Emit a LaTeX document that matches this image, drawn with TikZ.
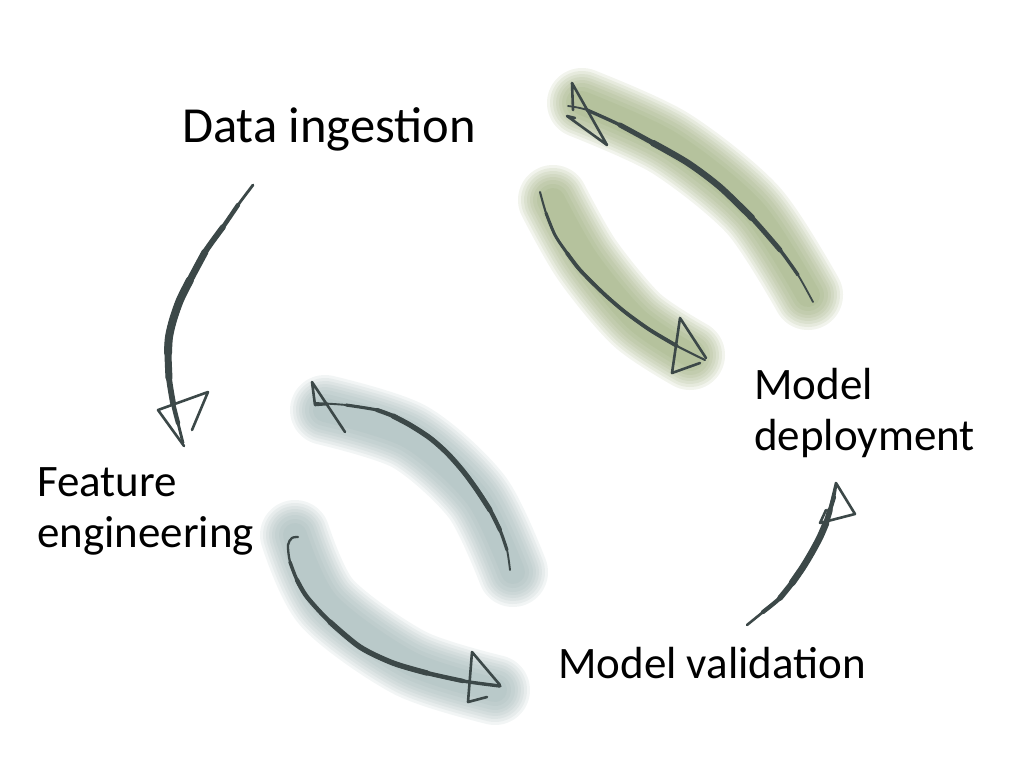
\documentclass[tikz,border=0pt]{standalone}
\usepackage{fontspec}
\setmainfont{Carlito}
\definecolor{inkc}{HTML}{3C4848}
\definecolor{greenc}{HTML}{8A9F62}
\definecolor{bluec}{HTML}{90ABAB}
\tikzset{
  lbl/.style={inner sep=0pt, anchor=base west, align=left, text=black,
    font=\fontsize{45}{51}\selectfont},
  biglbl/.style={lbl, font=\fontsize{50.5}{56}\selectfont},
  shaft/.style={draw=inkc, line cap=round, line join=round},
  tip/.style={draw=inkc, line width=2.6pt, line cap=round, line join=round},
  wash/.style={line cap=round, line join=round},
}
\newcommand{\washband}[2]{%
  \foreach \w in {70,64,58,52,46,40,32,24}{%
    \draw[wash, draw=#1, line width=\w pt, opacity=0.11] plot[smooth] coordinates {#2};}}
\begin{document}
\begin{tikzpicture}[x=1pt,y=-1pt]
\useasboundingbox (0,0) rectangle (1024,768);
\fill[white] (0,0) rectangle (1024,768);

% labels
\node[biglbl] (ingest) at (182,142) {Data ingestion};
\node[lbl] (feat) at (37,547) {Feature\\engineering};
\node[lbl] (valid) at (558,678) {Model validation};
\node[lbl] (deploy) at (754,450) {Model\\deployment};

% washes
\washband{greenc}{(582,103) (670,143) (753,210) (808,295)}
\washband{greenc}{(553,200) (587,260) (637,320) (690,355)}
\washband{bluec}{(325,410) (410,437) (477,497) (513,572)}
\washband{bluec}{(295,535) (327,603) (410,663) (495,690)}

% Data ingestion -> Feature engineering
\coordinate (a1s) at (253,185);
\coordinate (a1e) at (183,443);
\draw[shaft, line width=2.8pt] plot[smooth] coordinates {(a1s) (238,205) (223,227) (205,252) (190,280) (180,300) (173,320) (169,337) (168,353) (169,378) (173,403) (178,423) (a1e)};
\draw[shaft, line width=4.4pt] plot[smooth] coordinates {(238,205) (223,227) (205,252) (190,280) (180,300) (173,320) (169,337) (168,353) (169,378) (173,403) (178,423)};
\draw[shaft, line width=5.8pt] plot[smooth] coordinates {(223,227) (205,252) (190,280) (180,300) (173,320) (169,337) (168,353) (169,378) (173,403)};
\draw[shaft, line width=7pt] plot[smooth] coordinates {(205,252) (190,280) (180,300) (173,320) (169,337) (168,353) (169,378)};
\draw[shaft, line width=8pt] plot[smooth] coordinates {(190,280) (180,300) (173,320) (169,337) (168,353)};
\draw[tip] (192,430) -- (208,392) -- (158,410) -- (184,446);

% Model validation -> Model deployment
\coordinate (a4s) at (747,625);
\coordinate (a4e) at (836,485);
\draw[shaft, line width=2.6pt] plot[smooth] coordinates {(a4s) (763,612) (780,598) (792,583) (803,567) (812,552) (820,537) (826,523) (830,510) (834,497) (a4e)};
\draw[shaft, line width=4.2pt] plot[smooth] coordinates {(763,612) (780,598) (792,583) (803,567) (812,552) (820,537) (826,523) (830,510) (834,497)};
\draw[shaft, line width=5.6pt] plot[smooth] coordinates {(780,598) (792,583) (803,567) (812,552) (820,537) (826,523) (830,510)};
\draw[shaft, line width=6.8pt] plot[smooth] coordinates {(792,583) (803,567) (812,552) (820,537) (826,523)};
\draw[tip] (830,508) -- (836,483) -- (855,514) -- (820,523) -- (826,510);

% green upper arrow
\coordinate (g1s) at (813,302);
\coordinate (g1e) at (568,106);
\draw[shaft, line width=1.8pt] plot[smooth] coordinates {(g1s) (798,275) (780,250) (752,218) (720,187) (688,163) (653,143) (620,125) (587,110) (g1e)};
\draw[shaft, line width=3.4pt] plot[smooth] coordinates {(798,275) (780,250) (752,218) (720,187) (688,163) (653,143) (620,125) (587,110)};
\draw[shaft, line width=5pt] plot[smooth] coordinates {(780,250) (752,218) (720,187) (688,163) (653,143) (620,125)};
\draw[shaft, line width=6.4pt] plot[smooth] coordinates {(752,218) (720,187) (688,163) (653,143)};
\draw[tip] (573,110) -- (572,83) -- (607,145) -- (567,116) -- (575,118);

% green lower arrow
\coordinate (g2s) at (540,192);
\coordinate (g2e) at (705,360);
\draw[shaft, line width=2.1pt] plot[smooth] coordinates {(g2s) (546,213) (555,235) (567,253) (580,270) (603,293) (625,312) (650,330) (677,346) (g2e)};
\draw[shaft, line width=3pt] plot[smooth] coordinates {(546,213) (555,235) (567,253) (580,270) (603,293) (625,312) (650,330) (677,346)};
\draw[shaft, line width=3.8pt] plot[smooth] coordinates {(567,253) (580,270) (603,293) (625,312) (650,330) (677,346)};
\draw[tip] (700,363) -- (672,373) -- (680,318) -- (706,358);

% blue upper arrow
\coordinate (b1s) at (510,570);
\coordinate (b1e) at (315,403);
\draw[shaft, line width=1.9pt] plot[smooth] coordinates {(b1s) (507,550) (500,530) (490,510) (477,490) (463,471) (447,453) (430,438) (410,425) (393,416) (377,410) (346,405) (b1e)};
\draw[shaft, line width=3.1pt] plot[smooth] coordinates {(507,550) (500,530) (490,510) (477,490) (463,471) (447,453) (430,438) (410,425) (393,416) (377,410) (346,405)};
\draw[shaft, line width=4.2pt] plot[smooth] coordinates {(500,530) (490,510) (477,490) (463,471) (447,453) (430,438) (410,425) (393,416) (377,410)};
\draw[shaft, line width=5.2pt] plot[smooth] coordinates {(490,510) (477,490) (463,471) (447,453) (430,438) (410,425) (393,416)};
\draw[tip] (328,404) -- (315,405) -- (312,382) -- (345,432);

% blue lower arrow
\coordinate (b2s) at (298,537);
\coordinate (b2e) at (500,686);
\draw[shaft, line width=2.3pt] plot[smooth] coordinates {(b2s) (292,538) (288,545) (290,562) (297,580) (307,597) (330,622) (360,647) (393,663) (427,673) (463,681) (b2e)};
\draw[shaft, line width=3.4pt] plot[smooth] coordinates {(290,562) (297,580) (307,597) (330,622) (360,647) (393,663) (427,673) (463,681) (b2e)};
\draw[shaft, line width=4.4pt] plot[smooth] coordinates {(297,580) (307,597) (330,622) (360,647) (393,663) (427,673) (463,681)};
\draw[shaft, line width=5.4pt] plot[smooth] coordinates {(330,622) (360,647) (393,663) (427,673)};
\draw[tip] (487,697) -- (468,702) -- (472,652) -- (500,685);
\end{tikzpicture}
\end{document}
